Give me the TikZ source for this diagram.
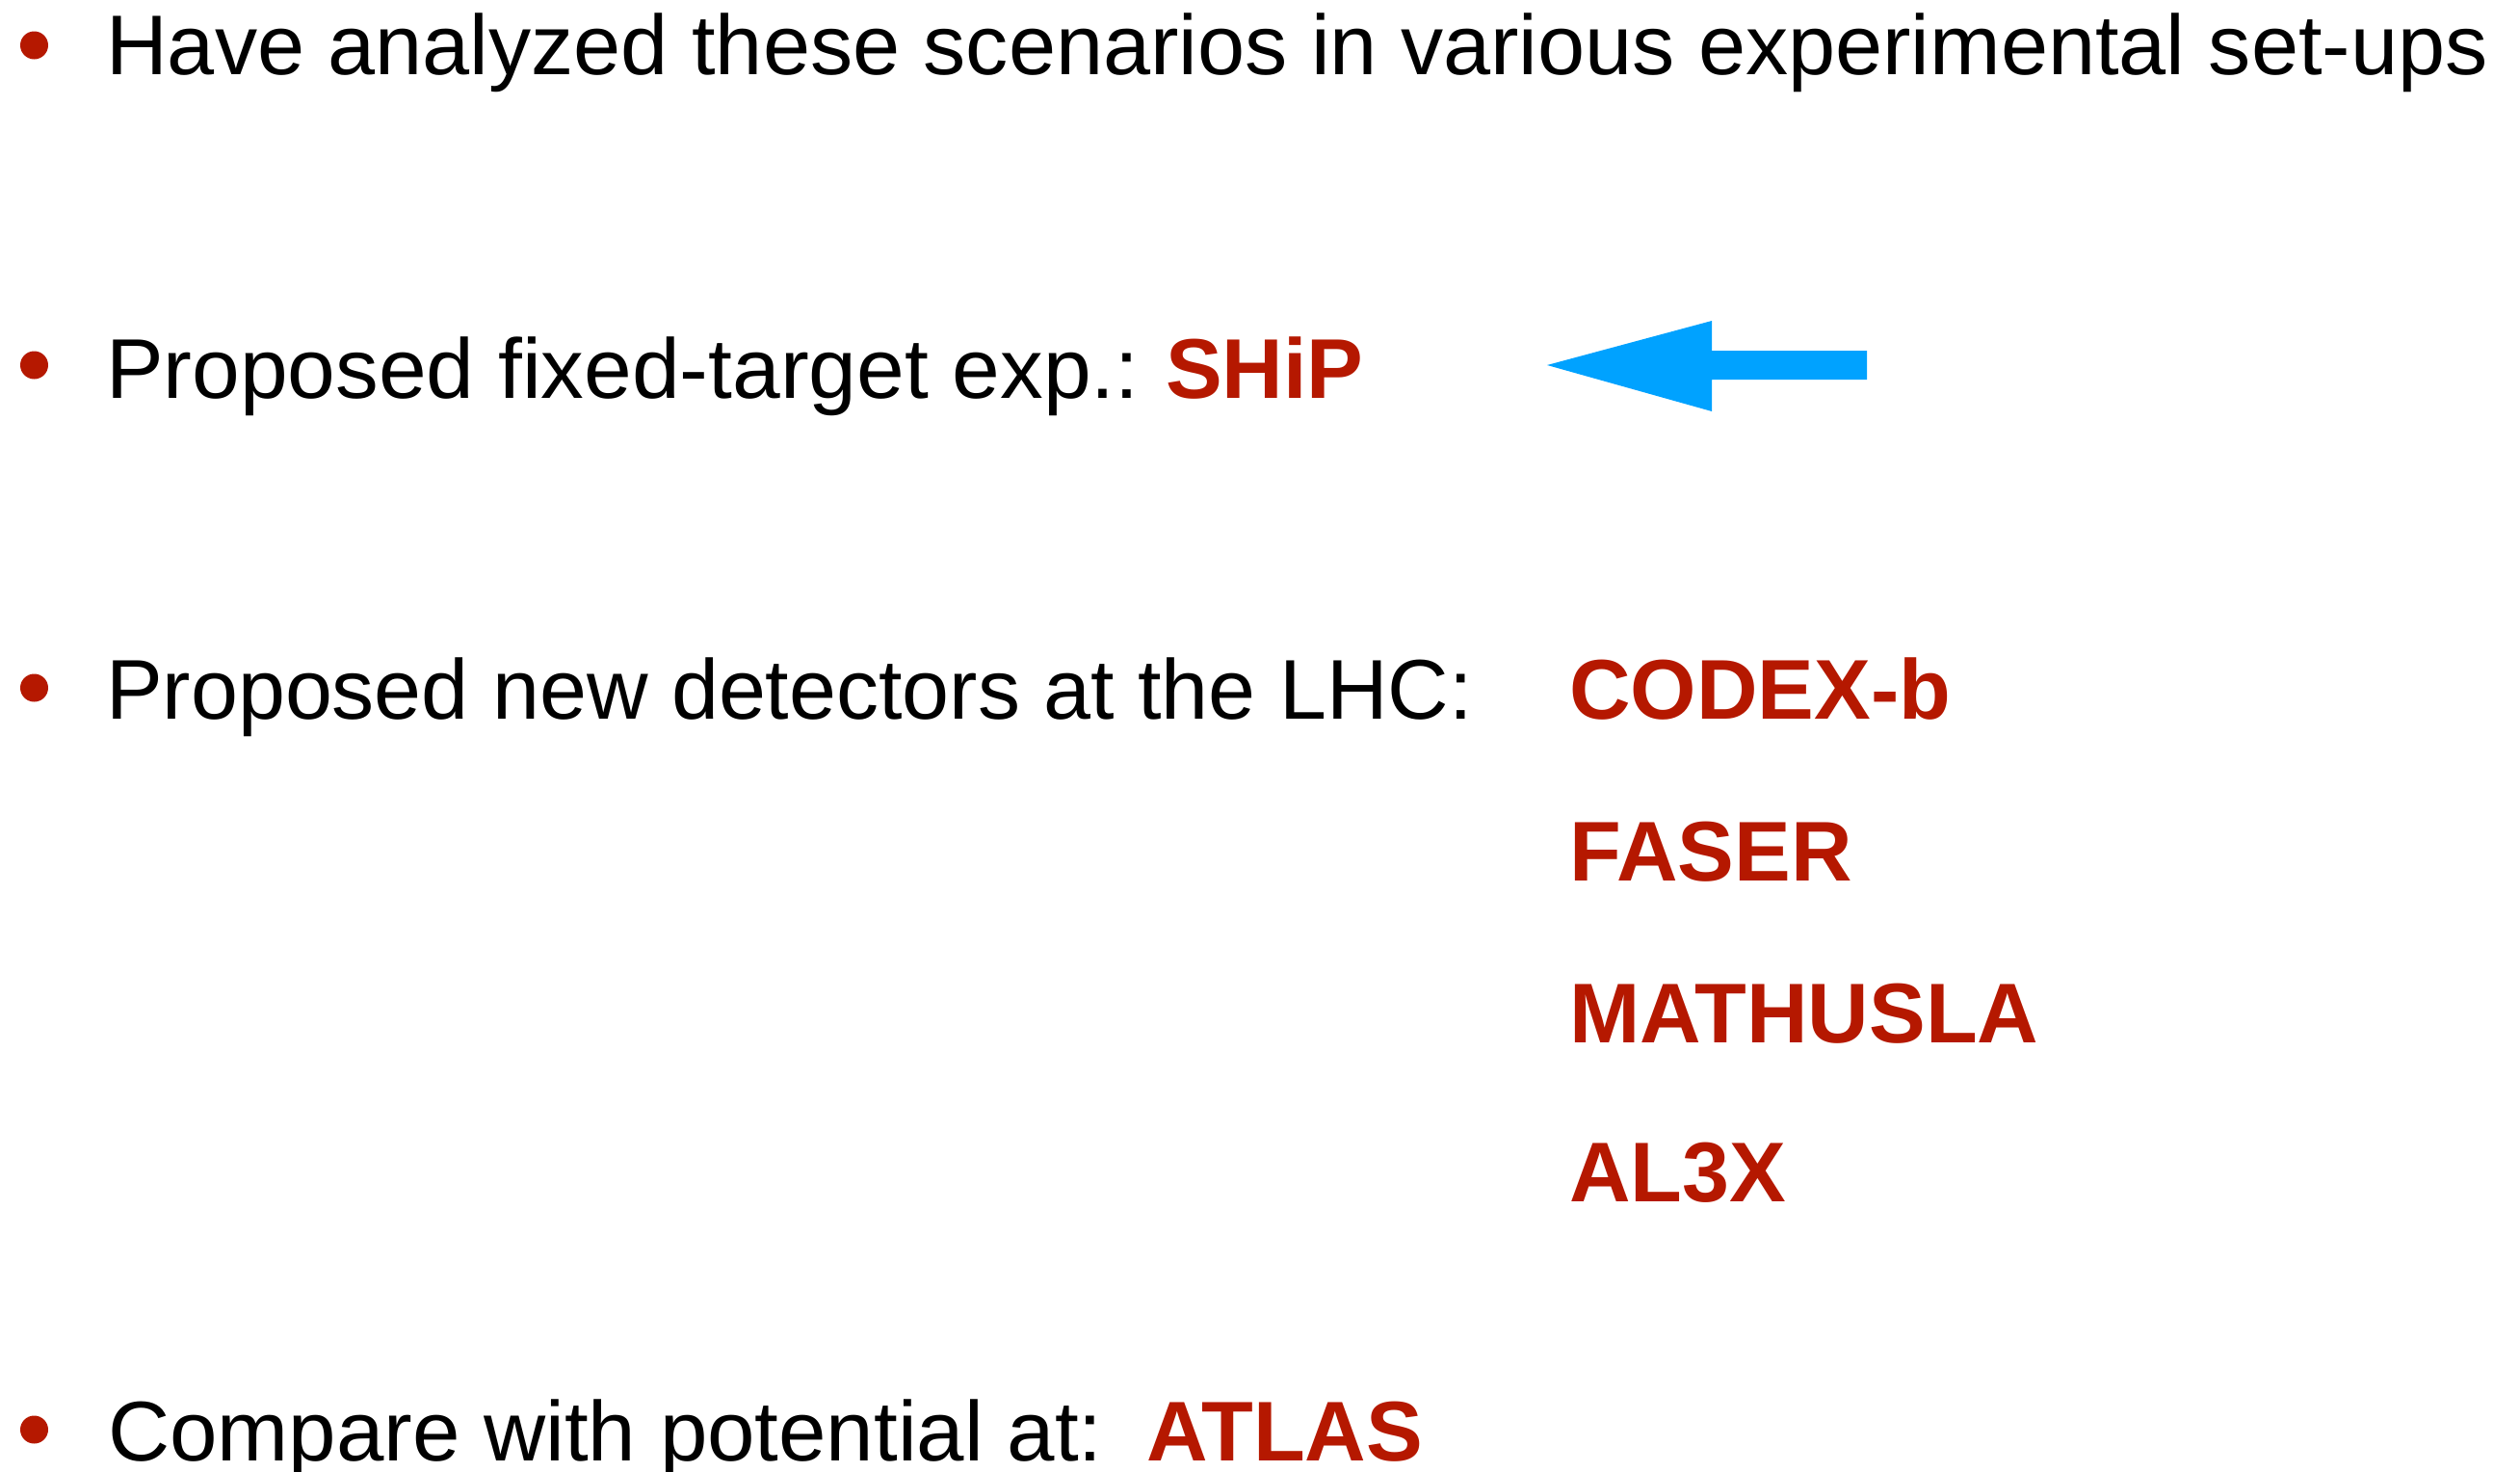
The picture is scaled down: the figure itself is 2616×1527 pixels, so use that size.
\documentclass[tikz,border=0pt]{standalone}
\usepackage{fontspec}
\setmainfont{Liberation Sans}
\definecolor{slidered}{RGB}{181,24,0}
\definecolor{arrowblue}{RGB}{0,162,255}
\begin{document}
\begin{tikzpicture}[x=1pt,y=-1pt,
  txt/.style={anchor=base west,inner sep=0pt,font=\fontsize{88}{100}\selectfont},
  red/.style={txt,text=slidered,font=\fontsize{88}{100}\selectfont\bfseries},
  bul/.style={fill=slidered,draw=none}]
\useasboundingbox (0,0) rectangle (2616,1527);
% bullets
\fill[bul] (35.5,47) circle (14.5);
\fill[bul] (35.5,379) circle (14.5);
\fill[bul] (35.5,714) circle (14.5);
\fill[bul] (35.5,1484) circle (14.5);
% line 1
\node[txt] (l1) at (110,77) {\scalebox{1.003}[1]{Have analyzed these scenarios in various experimental set-ups}};
% line 2
\node[txt] (l2) at (110,413) {\scalebox{1.015}[1]{Proposed fixed-target exp.:}};
\node[red] (ship) at (1210,413) {SHiP};
% arrow
\fill[arrowblue] (1606,379) -- (1777,333) -- (1777,364) -- (1938,364) -- (1938,394) -- (1777,394) -- (1777,427) -- cycle;
% line 3
\node[txt] (l3) at (110,746) {Proposed new detectors at the LHC:};
\node[red] (codex) at (1629,746) {CODEX-b};
\node[red] (faser) at (1629,914) {FASER};
\node[red] (mathusla) at (1629,1082) {MATHUSLA};
\node[red] (al3x) at (1629,1247) {AL3X};
% line 4
\node[txt] (l4) at (112,1516) {\scalebox{1.01}[1]{Compare with potential at:}};
\node[red] (atlas) at (1190,1516) {ATLAS};
\end{tikzpicture}
\end{document}
